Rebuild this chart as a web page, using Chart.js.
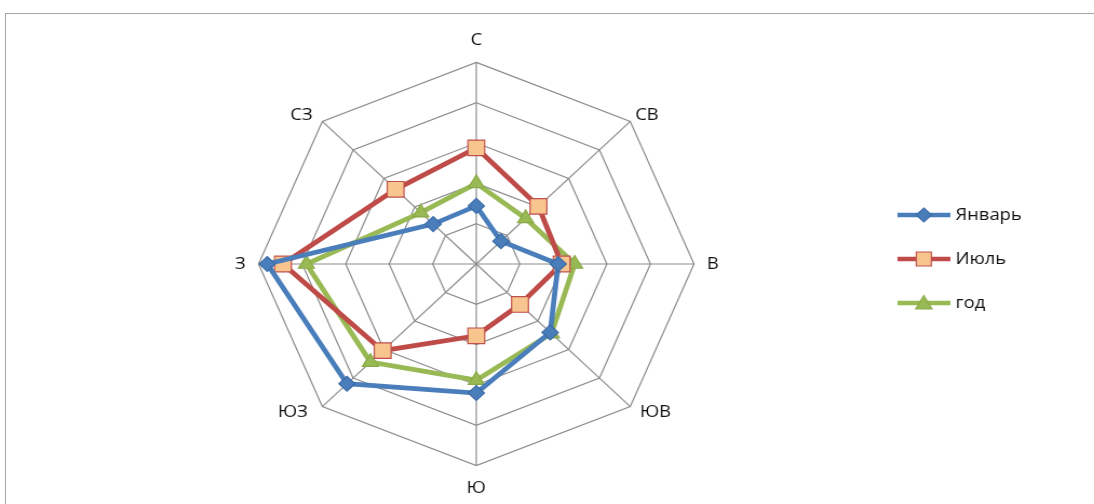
<!DOCTYPE html>
<html><head><meta charset="utf-8">
<script src="https://cdn.jsdelivr.net/npm/chart.js@4.4.1/dist/chart.umd.min.js"></script>
<style>
html,body{margin:0;padding:0;background:#fff;overflow:hidden;width:1094px;height:504px;}
#frame{position:absolute;left:5px;top:13px;width:1200px;height:600px;border-left:1px solid #a6a6a6;border-top:1px solid #a6a6a6;}
#wrap{position:absolute;left:0;top:0;width:1013px;height:504px;transform:scaleX(1.08);transform-origin:0 0;}
</style></head><body>
<div id="frame"></div>
<div id="wrap"><canvas id="c" width="1013" height="504"></canvas></div>
<script>
const directions = ['С','СВ','В','ЮВ','Ю','ЮЗ','З','СЗ'];
const seriesNames = ['Январь','Июль','год'];
const january = [7.2, 4, 9.4, 12, 16, 21, 24, 7];
const july = [14.4, 10.1, 9.8, 7.1, 8.9, 15.2, 22.2, 13.1];
const year = [10, 8, 11.3, 12.2, 14.4, 17.2, 19.5, 9];
const scaleMax = 25;
const scaleStep = 5;

const FONT = '"Open Sans", "Noto Sans", sans-serif';
const styles = [
  {line:'#4A7EBB', fill:'#4A7EBB', border:'#3C6CA8', point:'rectRot', r:7.5},
  {line:'#BE4B48', fill:'#F9C58E', border:'#C0504D', point:'rect', r:11},
  {line:'#98B954', fill:'#98B954', border:'#8AAB48', point:'triangle', r:8.5}
];
const seriesData = [january, july, year];
const labelPadLeft = [0, 2, 0, 3, 0, 0, 0, 0];
const labelPadRight = [0, 0, 0, 0, 0, 4, 0, 3];

function legendIcon(s){
  const cv = document.createElement('canvas');
  cv.width = 49; cv.height = 20;
  const ctx = cv.getContext('2d');
  ctx.strokeStyle = s.line; ctx.lineWidth = 4.5;
  ctx.beginPath(); ctx.moveTo(0,10); ctx.lineTo(49,10); ctx.stroke();
  ctx.fillStyle = s.fill; ctx.strokeStyle = s.border; ctx.lineWidth = 1.2;
  ctx.beginPath();
  if (s.point === 'rectRot'){ ctx.moveTo(24.5,3); ctx.lineTo(31.5,10); ctx.lineTo(24.5,17); ctx.lineTo(17.5,10); ctx.closePath(); }
  else if (s.point === 'rect'){ ctx.rect(17.5,3,14,14); }
  else { ctx.moveTo(24.5,2.5); ctx.lineTo(32,16); ctx.lineTo(17,16); ctx.closePath(); }
  ctx.fill(); ctx.stroke();
  return cv;
}

const datasets = seriesNames.map((name, i) => ({
  label: name,
  data: seriesData[i],
  borderColor: styles[i].line,
  borderWidth: 4.8,
  backgroundColor: 'rgba(0,0,0,0)',
  fill: false,
  pointStyle: styles[i].point,
  pointRadius: styles[i].r,
  pointBackgroundColor: styles[i].fill,
  pointBorderColor: styles[i].border,
  pointBorderWidth: 1.2,
  tension: 0
}));

const legendShift = {
  id: 'legendShift',
  afterLayout(chart) {
    if (chart.legend) { chart.legend.top -= 5; chart.legend.bottom -= 5; }
  }
};

new Chart(document.getElementById('c'), {
  type: 'radar',
  data: { labels: directions, datasets: datasets },
  plugins: [legendShift],
  options: {
    responsive: false,
    animation: false,
    devicePixelRatio: 1,
    layout: { padding: { left: 76, right: 57, top: 30, bottom: 6 } },
    elements: { line: { borderJoinStyle: 'miter' } },
    scales: {
      r: {
        min: 0, max: scaleMax,
        ticks: { display: false, stepSize: scaleStep },
        grid: { color: '#8c8c8c', lineWidth: 1.2 },
        angleLines: { color: '#8c8c8c', lineWidth: 1.2 },
        pointLabels: {
          color: '#111',
          padding: (ctx) => (ctx.index % 2 === 1 ? -6 : 12),
          font: { family: FONT, size: 17 },
          callback: (label, index) => ' '.repeat(labelPadLeft[index]) + label + ' '.repeat(labelPadRight[index])
        }
      }
    },
    plugins: {
      tooltip: { enabled: false },
      legend: {
        position: 'right',
        align: 'center',
        labels: {
          usePointStyle: true,
          pointStyleWidth: 42,
          padding: 27,
          color: '#111',
          font: { family: FONT, size: 17 },
          generateLabels: (chart) => chart.data.datasets.map((ds, i) => ({
            text: ds.label,
            pointStyle: legendIcon(styles[i]),
            fillStyle: styles[i].fill,
            strokeStyle: styles[i].line,
            lineWidth: 0,
            hidden: false,
            datasetIndex: i,
            fontColor: '#111'
          }))
        }
      }
    }
  }
});
</script>
</body></html>
